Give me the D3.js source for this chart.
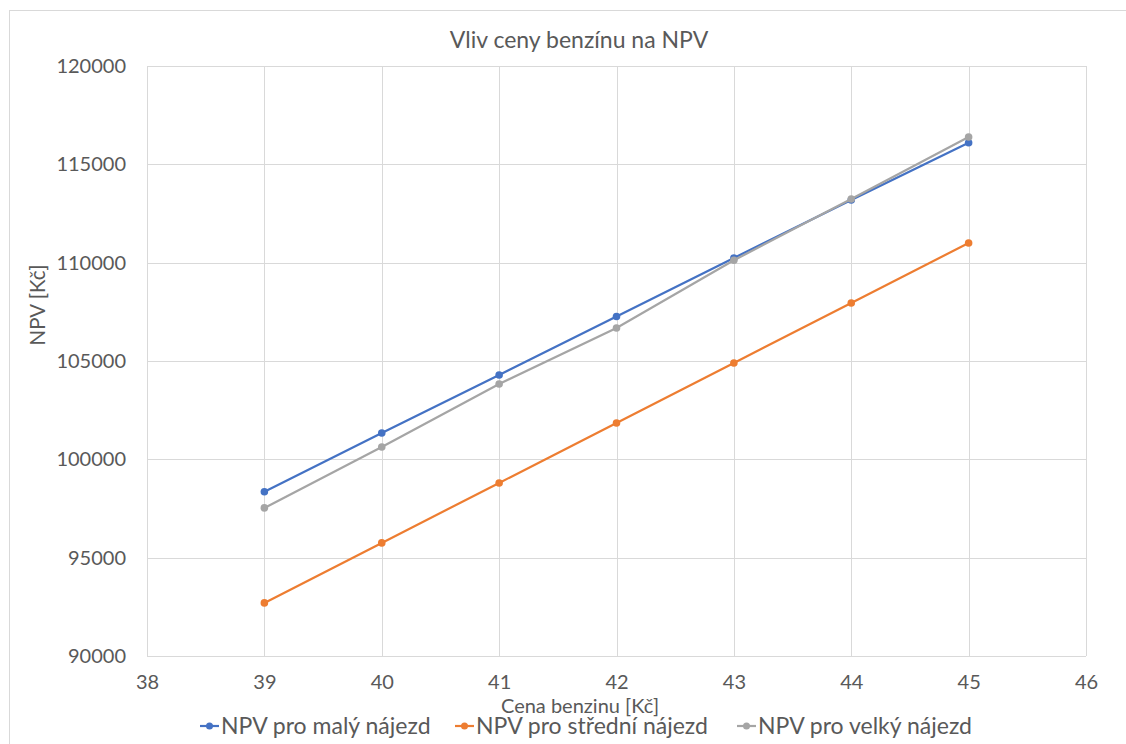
<!DOCTYPE html>
<html>
<head>
<meta charset="utf-8">
<script src="https://cdn.jsdelivr.net/npm/d3@7"></script>
<style>
  body { margin: 0; background: #fff; }
  text { font-family: Lato, "Open Sans", sans-serif; fill: #595959; }
</style>
</head>
<body>
<div id="graph01"></div>
<script>
// data
const ceny = [39, 40, 41, 42, 43, 44, 45];
const npvMaly = [98350, 101340, 104290, 107260, 110240, 113190, 116100];
const npvStredni = [92700, 95750, 98800, 101850, 104900, 107950, 111000];
const npvVelky = [97530, 100630, 103830, 106680, 110120, 113240, 116390];
const xTicks = [38, 39, 40, 41, 42, 43, 44, 45, 46];
const yTicks = [90000, 95000, 100000, 105000, 110000, 115000, 120000];
const seriesNames = ["NPV pro malý nájezd", "NPV pro střední nájezd", "NPV pro velký nájezd"];
const seriesColors = ["#4472c4", "#ed7d31", "#a5a5a5"];

(function() {
    const W = 1126, H = 744;
    const svg = d3.select('#graph01').append("svg")
        .attr("width", W).attr("height", H);

    // chart frame
    svg.append("rect")
        .attr("x", 9.5).attr("y", 10.5)
        .attr("width", W + 10).attr("height", H + 10)
        .attr("fill", "none").attr("stroke", "#d9d9d9");

    const x = d3.scaleLinear().domain([38, 46]).range([147, 1086]);
    const y = d3.scaleLinear().domain([90000, 120000]).range([656, 66]);

    // gridlines
    svg.append("g").selectAll("line").data(yTicks).join("line")
        .attr("x1", x(38)).attr("x2", x(46))
        .attr("y1", d => Math.round(y(d)) + 0.5).attr("y2", d => Math.round(y(d)) + 0.5)
        .attr("stroke", "#d9d9d9");
    svg.append("g").selectAll("line").data(xTicks).join("line")
        .attr("y1", y(90000)).attr("y2", y(120000))
        .attr("x1", d => Math.round(x(d)) + 0.5).attr("x2", d => Math.round(x(d)) + 0.5)
        .attr("stroke", "#d9d9d9");

    // axes (labels only)
    const axisY = svg.append("g")
        .attr("transform", "translate(" + 126 + ",0)")
        .call(d3.axisLeft(y).tickValues(yTicks).tickSize(0).tickPadding(0).tickFormat(d3.format("d")));
    axisY.select(".domain").remove();
    axisY.selectAll("text").attr("font-size", 20).attr("fill", "#595959")
        .style("font-family", "Lato, sans-serif");

    const axisX = svg.append("g")
        .attr("transform", "translate(0," + 675 + ")")
        .call(d3.axisBottom(x).tickValues(xTicks).tickSize(0).tickPadding(0).tickFormat(d3.format("d")));
    axisX.select(".domain").remove();
    axisX.selectAll("text").attr("font-size", 20).attr("fill", "#595959")
        .style("font-family", "Lato, sans-serif");

    // titles
    svg.append("text").attr("x", 579).attr("y", 48)
        .attr("text-anchor", "middle").attr("font-size", 23).text("Vliv ceny benzínu na NPV");
    svg.append("text").attr("x", 580).attr("y", 713)
        .attr("text-anchor", "middle").attr("font-size", 20).text("Cena benzinu [Kč]");
    svg.append("text")
        .attr("transform", "translate(45,305) rotate(-90)")
        .attr("text-anchor", "middle").attr("font-size", 20.5).text("NPV [Kč]");

    // lines
    const allSeries = [npvMaly, npvStredni, npvVelky];
    const line = d3.line().x((d, i) => x(ceny[i])).y(d => y(d));
    allSeries.forEach((vals, k) => {
        svg.append("path").datum(vals)
            .attr("fill", "none").attr("stroke", seriesColors[k])
            .attr("stroke-width", 2.2).attr("d", line);
        svg.append("g").selectAll("circle").data(vals).join("circle")
            .attr("cx", (d, i) => x(ceny[i])).attr("cy", d => y(d))
            .attr("r", 3.8).attr("fill", seriesColors[k]);
    });

    // legend
    const legendX = [200, 455, 737];
    const lg = svg.append("g").selectAll("g").data(seriesNames).join("g")
        .attr("transform", (d, i) => "translate(" + legendX[i] + ",726)");
    lg.append("line").attr("x1", 0).attr("x2", 19)
        .attr("stroke", (d, i) => seriesColors[i]).attr("stroke-width", 2.2);
    lg.append("circle").attr("cx", 9.5).attr("r", 3.5)
        .attr("fill", (d, i) => seriesColors[i]);
    lg.append("text").attr("x", 21).attr("y", 8)
        .attr("font-size", 23).text(d => d);
})();
</script>
</body>
</html>
